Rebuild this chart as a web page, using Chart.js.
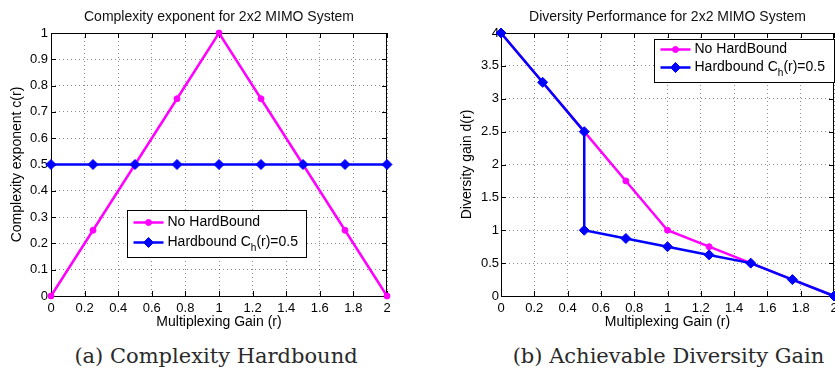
<!DOCTYPE html>
<html>
<head>
<meta charset="utf-8">
<script src="https://cdn.jsdelivr.net/npm/chart.js@4.4.1/dist/chart.umd.min.js"></script>
<style>
  body { margin: 0; background: #fff; width: 835px; height: 372px; position: relative; overflow: hidden; }
  canvas { position: absolute; top: 0; }
  #cvA { left: 0; }
  #cvB { left: 417px; }
  .caption { position: absolute; top: 344px; font-family: "DejaVu Serif", serif; font-size: 21px; line-height: 24px;
             color: #2a2a2a; text-align: center; white-space: nowrap; }
</style>
</head>
<body>
<canvas id="cvA" width="417" height="335"></canvas>
<canvas id="cvB" width="418" height="335"></canvas>
<div class="caption" style="left:66px;width:300px">(a) Complexity Hardbound</div>
<div class="caption" style="left:502px;width:333px">(b) Achievable Diversity Gain</div>
<script>
// multiplexing gain r
const gain = [0, 0.25, 0.5, 0.75, 1, 1.25, 1.5, 1.75, 2];
// complexity exponent c(r)
const complexityNoBound = [0, 0.25, 0.5, 0.75, 1, 0.75, 0.5, 0.25, 0];
const complexityHardBound = [0.5, 0.5, 0.5, 0.5, 0.5, 0.5, 0.5, 0.5, 0.5];
// diversity gain d(r)
const diversityNoBound = [4, 3.25, 2.5, 1.75, 1, 0.75, 0.5, 0.25, 0];
const gainHardBound = [0, 0.25, 0.5, 0.5, 0.75, 1, 1.25, 1.5, 1.75, 2];
const diversityHardBound = [4, 3.25, 2.5, 1, 0.875, 0.75, 0.625, 0.5, 0.25, 0];
// axis ticks
const gainTicks = [0, 0.2, 0.4, 0.6, 0.8, 1, 1.2, 1.4, 1.6, 1.8, 2];
const complexityTicks = [0, 0.1, 0.2, 0.3, 0.4, 0.5, 0.6, 0.7, 0.8, 0.9, 1];
const diversityTicks = [0, 0.5, 1, 1.5, 2, 2.5, 3, 3.5, 4];

const FONT = '"Liberation Sans", Arial, sans-serif';
const MAGENTA = '#ff00ff';
const BLUE = '#0000ff';

function points(xs, ys) {
    return xs.map((x, i) => ({ x: x, y: ys[i] }));
}

function marker(ctx, style, r, x, y) {
    ctx.beginPath();
    if (style === 'rectRot') {
        ctx.moveTo(x, y - r);
        ctx.lineTo(x + r, y);
        ctx.lineTo(x, y + r);
        ctx.lineTo(x - r, y);
        ctx.closePath();
    } else {
        ctx.arc(x, y, r, 0, Math.PI * 2);
    }
    ctx.fill();
    ctx.stroke();
}

// text with "_x" subscripts
function richText(ctx, text, x, y, size) {
    const parts = text.split(/_(\w)/);
    parts.forEach((p, k) => {
        const sub = k % 2 === 1;
        ctx.font = (sub ? size * 0.72 : size) + 'px ' + FONT;
        ctx.fillText(p, x, sub ? y + size * 0.38 : y);
        x += ctx.measureText(p).width;
    });
}

// MATLAB style box, inward ticks, title and legend
const matlabAxes = {
    id: 'matlabAxes',
    beforeDatasetsDraw(chart, args, opts) {
        const { ctx, chartArea: a, scales } = chart;
        ctx.save();
        ctx.strokeStyle = '#000';
        ctx.lineWidth = 1;
        ctx.strokeRect(Math.round(a.left) + 0.5, Math.round(a.top) + 0.5,
                       Math.round(a.right - a.left) - 1, Math.round(a.bottom - a.top));
        ctx.beginPath();
        scales.x.ticks.forEach(t => {
            const px = Math.round(scales.x.getPixelForValue(t.value)) + 0.5;
            ctx.moveTo(px, a.bottom); ctx.lineTo(px, a.bottom - 5);
            ctx.moveTo(px, a.top); ctx.lineTo(px, a.top + 5);
        });
        scales.y.ticks.forEach(t => {
            const py = Math.round(scales.y.getPixelForValue(t.value)) + 0.5;
            ctx.moveTo(a.left, py); ctx.lineTo(a.left + 5, py);
            ctx.moveTo(a.right, py); ctx.lineTo(a.right - 5, py);
        });
        ctx.stroke();
        ctx.restore();
    },
    afterDraw(chart, args, opts) {
        const { ctx, chartArea: a } = chart;
        ctx.save();
        ctx.fillStyle = '#111';
        ctx.font = '14px ' + FONT;
        ctx.textAlign = 'center';
        ctx.textBaseline = 'middle';
        ctx.fillText(opts.title, (a.left + a.right) / 2, 17);

        const lg = opts.legend;
        const x0 = Math.round(a.left + lg.x) + 0.5;
        const y0 = Math.round(a.top + lg.y) + 0.5;
        ctx.fillStyle = '#fff';
        ctx.fillRect(x0, y0, lg.w, lg.h);
        ctx.strokeStyle = '#000';
        ctx.lineWidth = 1;
        ctx.strokeRect(x0, y0, lg.w, lg.h);
        ctx.textAlign = 'left';
        chart.data.datasets.forEach((ds, i) => {
            const y = y0 + lg.first + i * lg.gap;
            ctx.strokeStyle = ds.borderColor;
            ctx.lineWidth = ds.borderWidth;
            ctx.beginPath();
            ctx.moveTo(x0 + 6, y);
            ctx.lineTo(x0 + 36, y);
            ctx.stroke();
            ctx.fillStyle = ds.backgroundColor;
            ctx.lineWidth = 1;
            marker(ctx, ds.pointStyle, ds.pointRadius, x0 + 21, y);
            ctx.fillStyle = '#000';
            richText(ctx, ds.label, x0 + 40, y, 14);
        });
        ctx.restore();
    }
};

function scaleX() {
    return {
        type: 'linear', min: 0, max: 2,
        afterBuildTicks: s => { s.ticks = gainTicks.map(v => ({ value: v })); },
        afterFit: s => { s.height = 39; s.paddingLeft = 0; s.paddingRight = 0; },
        grid: { color: 'rgba(0,0,0,0.45)', drawTicks: false },
        border: { display: false, dash: [1, 3] },
        ticks: { color: '#000', font: { family: FONT, size: 13 }, padding: 5, maxRotation: 0, autoSkip: false,
                 callback: v => String(v) },
        title: { display: true, text: 'Multiplexing Gain (r)', color: '#000', font: { family: FONT, size: 14 },
                 padding: { top: 0, bottom: 4 } }
    };
}

function scaleY(max, tickList, label, width, titlePad, tickPad) {
    return {
        type: 'linear', min: 0, max: max,
        afterBuildTicks: s => { s.ticks = tickList.map(v => ({ value: v })); },
        afterFit: s => { s.width = width; s.paddingTop = 0; s.paddingBottom = 0; },
        grid: { color: 'rgba(0,0,0,0.45)', drawTicks: false },
        border: { display: false, dash: [1, 3] },
        ticks: { color: '#000', font: { family: FONT, size: 13 }, padding: tickPad, autoSkip: false,
                 callback: v => String(v) },
        title: { display: true, text: label, color: '#000', font: { family: FONT, size: 14 },
                 padding: { top: titlePad, bottom: 0 } }
    };
}

function noBoundSet(data) {
    return { label: 'No HardBound', data: data, borderColor: MAGENTA, backgroundColor: MAGENTA,
             borderWidth: 2.5, pointStyle: 'circle', pointRadius: 3, pointBorderWidth: 1,
             tension: 0, clip: false, order: 2 };
}

function hardBoundSet(data) {
    return { label: 'Hardbound C_h(r)=0.5', data: data, borderColor: BLUE, backgroundColor: BLUE,
             borderWidth: 2.5, pointStyle: 'rectRot', pointRadius: 5, pointBorderWidth: 1,
             tension: 0, clip: false, order: 1 };
}

function baseOptions(padRight, yScale, title, legend) {
    return {
        responsive: false,
        animation: false,
        devicePixelRatio: 1,
        events: [],
        layout: { autoPadding: false, padding: { left: 0, right: padRight, top: 33, bottom: 0 } },
        scales: { x: scaleX(), y: yScale },
        plugins: {
            legend: { display: false },
            tooltip: { enabled: false },
            matlabAxes: { title: title, legend: legend }
        }
    };
}

// (a) complexity exponent
new Chart(document.getElementById('cvA').getContext('2d'), {
    type: 'line',
    data: {
        datasets: [
            noBoundSet(points(gain, complexityNoBound)),
            hardBoundSet(points(gain, complexityHardBound))
        ]
    },
    options: baseOptions(30,
        scaleY(1, complexityTicks, 'Complexity exponent c(r)', 51, 9, 3),
        'Complexity exponent for 2x2 MIMO System',
        { x: 76, y: 177, w: 179, h: 47, first: 12, gap: 20 }),
    plugins: [matlabAxes]
});

// (b) achievable diversity gain
new Chart(document.getElementById('cvB').getContext('2d'), {
    type: 'line',
    data: {
        datasets: [
            noBoundSet(points(gain, diversityNoBound)),
            hardBoundSet(points(gainHardBound, diversityHardBound))
        ]
    },
    options: baseOptions(1,
        scaleY(4, diversityTicks, 'Diversity gain d(r)', 84, 42, 2),
        'Diversity Performance for 2x2 MIMO System',
        { x: 153, y: 6, w: 180, h: 43, first: 10, gap: 18 }),
    plugins: [matlabAxes]
});
</script>
</body>
</html>
